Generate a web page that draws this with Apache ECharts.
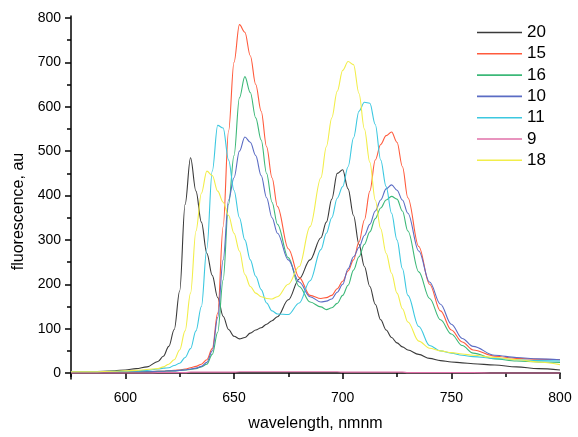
<!DOCTYPE html>
<html>
<head>
<meta charset="utf-8">
<script src="https://cdn.jsdelivr.net/npm/echarts@6/dist/echarts.min.js"></script>
<style>
  html, body { margin: 0; padding: 0; background: #fff; }
  #chart { width: 578px; height: 437px; }
</style>
</head>
<body>
<div id="chart"></div>
<script>
// wavelength grid (nm), denser around the peaks
const wavelengths = [575, 585, 595, 600, 605, 610, 615, 617.5, 620, 622.5, 625, 627.5, 630, 632.5, 635, 637.5, 640,
  642.5, 645, 647.5, 650, 652.5, 655, 657.5, 660, 662.5, 665, 667.5, 670, 675, 680, 685, 690, 692.5, 695, 697.5, 700,
  702.5, 705, 707.5, 710, 712.5, 715, 717.5, 720, 722.5, 725, 727.5, 730, 735, 740, 745, 750, 755, 760, 770, 780, 790, 800];

const s20 = [2, 3, 5, 7, 10, 14, 26, 38, 60, 98, 185, 380, 485, 410, 340, 270, 220, 170, 128, 98, 83, 77, 80, 90, 97, 102, 110,
  118, 127, 165, 212, 255, 305, 340, 392, 450, 458, 415, 355, 290, 240, 195, 155, 120, 97, 80, 68, 59, 52, 42, 33, 28, 25, 23, 21, 18, 14, 10, 7];
const s15 = [3, 3, 3, 3, 3, 3, 4, 4, 5, 6, 7, 9, 12, 15, 20, 30, 55, 135, 330, 545, 700, 785, 768, 715, 650, 590, 510, 440,
  375, 280, 215, 175, 168, 170, 175, 190, 207, 230, 255, 295, 345, 410, 480, 515, 535, 543, 520, 465, 395, 285, 200, 140, 97, 70, 52, 38, 33, 31, 30];
const s16 = [3, 3, 3, 3, 3, 3, 4, 4, 5, 5, 6, 7, 8, 10, 14, 20, 42, 92, 210, 380, 490, 620, 668, 632, 575, 525, 450, 385,
  335, 260, 195, 160, 149, 143, 147, 157, 175, 198, 232, 262, 290, 318, 348, 372, 390, 398, 392, 365, 320, 228, 168, 120, 88, 62, 45, 32, 27, 25, 24];
const s10 = [3, 3, 3, 3, 3, 3, 4, 4, 5, 5, 6, 7, 9, 11, 15, 24, 50, 125, 255, 390, 440, 500, 532, 520, 490, 445, 395, 350,
  315, 255, 205, 172, 160, 162, 167, 182, 200, 235, 262, 283, 310, 335, 365, 390, 415, 424, 412, 390, 360, 275, 205, 155, 110, 78, 60, 40, 35, 32, 30];
const s11 = [3, 3, 4, 4, 5, 6, 9, 11, 12, 17, 22, 35, 55, 95, 150, 280, 455, 558, 552, 480, 412, 350, 300, 255, 218, 188, 158,
  140, 133, 132, 158, 208, 278, 315, 350, 394, 420, 465, 530, 590, 610, 608, 560, 480, 420, 360, 300, 235, 175, 105, 62, 50, 45, 40, 37, 33, 30, 28, 27];
const s9 = [0, 0, 0, 0, 0, 0, 1, 1, 1, 1, 1, 1, 2, 2, 2, 2, 2, 2, 2, 2, 2, 3, 3, 3, 3, 3, 3, 3, 3, 3, 3, 3, 3, 3, 3, 3,
  2, 2, 2, 2, 2, 2, 2, 2, 2, 2, 2, 2, 1, 1, 1, 1, 1, 1, 1, 0, 0, 0, 0];
const s18 = [3, 3, 4, 5, 6, 8, 10, 14, 20, 30, 52, 95, 180, 320, 405, 455, 445, 410, 385, 355, 315, 275, 222, 195, 180, 172,
  168, 167, 172, 200, 240, 330, 440, 510, 575, 635, 682, 702, 695, 630, 550, 475, 390, 325, 270, 225, 180, 145, 115, 72, 56, 50, 46, 43, 40, 35, 30, 25, 19];

const seriesNames = ['20', '15', '16', '10', '11', '9', '18'];
const seriesValues = [s20, s15, s16, s10, s11, s9, s18];
const colors = ['#3a3a3a', '#ff5a3c', '#3cb878', '#5b6cc4', '#3cc8e0', '#e070a8', '#f2ee4a'];

const xMajor = [600, 650, 700, 750, 800];
const xMinor = [575, 625, 675, 725, 775];
const yMajor = [0, 100, 200, 300, 400, 500, 600, 700, 800];
const yMinor = [50, 150, 250, 350, 450, 550, 650, 750];

const font = '"Liberation Sans", Arial, sans-serif';
const chart = echarts.init(document.getElementById('chart'));

const axisLine = {show: true, lineStyle: {color: '#000', width: 1.5}};

let option = {
  animation: false,
  color: colors,
  textStyle: {fontFamily: font},
  grid: {left: 71, right: 18, top: 16, bottom: 54},
  legend: {
    orient: 'vertical',
    left: 477,
    top: 24,
    padding: 0,
    icon: 'rect',
    itemWidth: 45,
    itemHeight: 1.6,
    itemGap: 4.3,
    data: seriesNames,
    textStyle: {fontSize: 17, lineHeight: 17, color: '#000', fontFamily: font, padding: [0, 0, 0, 0]}
  },
  xAxis: [
    {
      type: 'value', min: 575, max: 800, position: 'bottom',
      name: 'wavelength, nmnm', nameLocation: 'middle', nameGap: 37,
      nameTextStyle: {fontSize: 16, color: '#000', fontFamily: font},
      axisLine: axisLine,
      axisTick: {show: true, inside: false, length: 6, customValues: xMajor, lineStyle: {color: '#000', width: 1.5}},
      axisLabel: {customValues: xMajor, fontSize: 14, color: '#000', margin: 12, fontFamily: font},
      splitLine: {show: false}
    },
    {
      type: 'value', min: 575, max: 800, position: 'bottom', offset: 0,
      axisLine: {show: false},
      axisTick: {show: true, inside: false, length: 4, customValues: xMinor, lineStyle: {color: '#000', width: 1.5}},
      axisLabel: {show: false},
      splitLine: {show: false}
    }
  ],
  yAxis: [
    {
      type: 'value', min: -13.4, max: 804.5, position: 'left',
      name: 'fluorescence, au', nameLocation: 'middle', nameGap: 38,
      nameTextStyle: {fontSize: 16, color: '#000', fontFamily: font, padding: [0, 28, 0, 0]},
      axisLine: axisLine,
      axisTick: {show: true, inside: false, length: 6, customValues: yMajor, lineStyle: {color: '#000', width: 1.5}},
      axisLabel: {customValues: yMajor, fontSize: 14, color: '#000', margin: 10, fontFamily: font},
      splitLine: {show: false}
    },
    {
      type: 'value', min: -13.4, max: 804.5, position: 'left', offset: 0,
      axisLine: {show: false},
      axisTick: {show: true, inside: false, length: 4, customValues: yMinor, lineStyle: {color: '#000', width: 1.5}},
      axisLabel: {show: false},
      splitLine: {show: false}
    }
  ],
  series: seriesNames.map((name, i) => ({
    name: name,
    type: 'line',
    xAxisIndex: 0,
    yAxisIndex: 0,
    showSymbol: false,
    symbol: 'none',
    smooth: 0.35,
    smoothMonotone: 'x',
    lineStyle: {width: 1.1, color: colors[i]},
    itemStyle: {color: colors[i]},
    data: wavelengths.map((w, j) => [w, seriesValues[i][j]])
  }))
};

chart.setOption(option);
</script>
</body>
</html>
